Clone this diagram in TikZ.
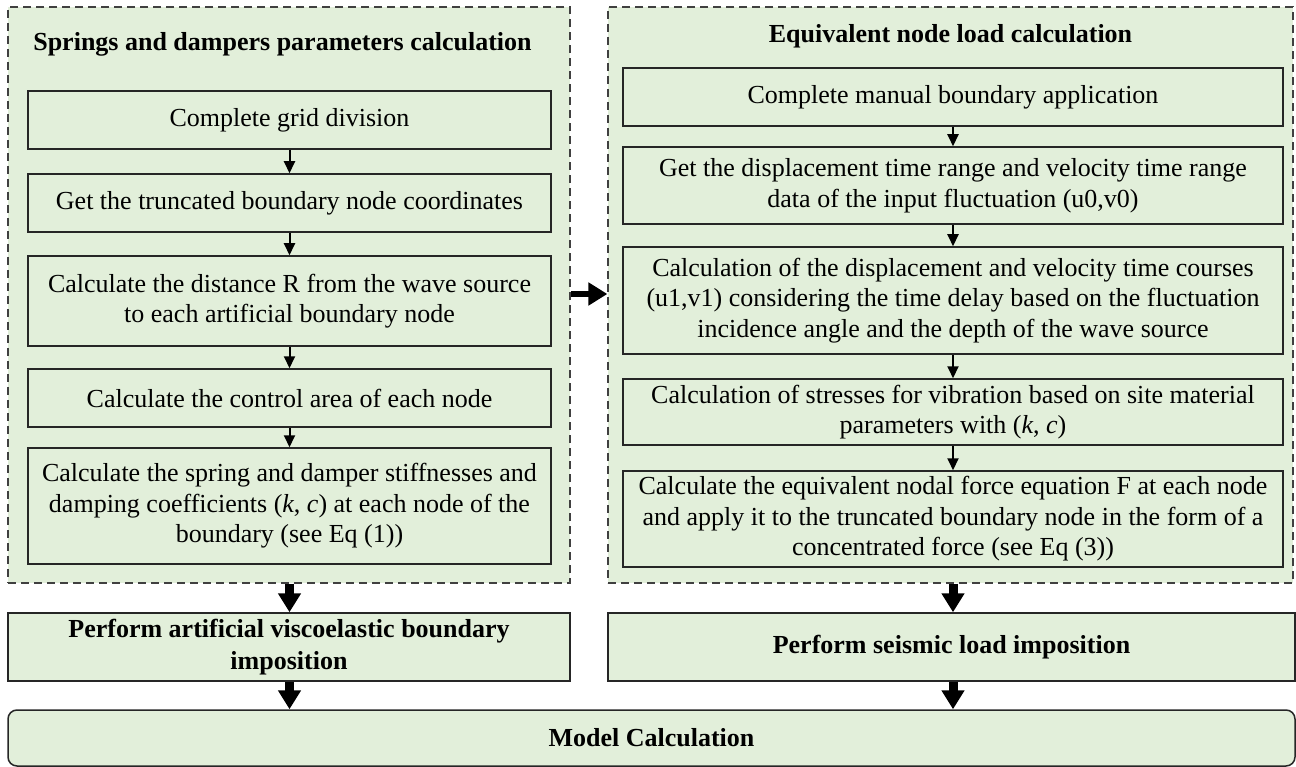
\documentclass[tikz,border=0pt]{standalone}
\usepackage{fontspec}
\setmainfont{Liberation Serif}
\usetikzlibrary{arrows.meta}
\definecolor{boxgreen}{RGB}{226,239,218}
\definecolor{boxline}{RGB}{38,38,38}
\definecolor{dashline}{RGB}{64,64,64}
\begin{document}
\begin{tikzpicture}[x=1pt,y=-1pt,
  frame/.style={draw=dashline, line width=1.2pt, dash pattern=on 8pt off 5pt, fill=boxgreen, inner sep=0pt},
  stepbox/.style={draw=boxline, line width=1.5pt, fill=boxgreen, align=center, inner sep=0pt,
    font=\fontsize{26}{30.5}\selectfont},
  resultbox/.style={stepbox, font=\fontsize{26}{31.5}\selectfont\bfseries},
  titletext/.style={inner sep=0pt, anchor=base, font=\fontsize{26}{30}\selectfont\bfseries},
  smallarrow/.style={-{Triangle[width=11pt,length=12pt]}, line width=2pt, draw=black},
  bigarrow/.style={-{Triangle[width=22pt,length=19pt]}, line width=9pt, draw=black}
]
\useasboundingbox (0,0) rectangle (1296,767);

% containers
\node[frame, minimum width=562pt, minimum height=576pt] (lc) at (289,295) {};
\node[frame, minimum width=685pt, minimum height=576pt] (rc) at (950.5,295) {};

% titles
\node[titletext] (lt) at (282.5,51) {Springs and dampers parameters calculation};
\node[titletext] (rt) at (950.5,43) {Equivalent node load calculation};

% left steps
\node[stepbox, minimum width=523pt, minimum height=58pt] (L1) at (289.5,120) {Complete grid division};
\node[stepbox, minimum width=523pt, minimum height=58pt] (L2) at (289.5,203) {Get the truncated boundary node coordinates};
\node[stepbox, minimum width=523pt, minimum height=90pt] (L3) at (289.5,301) {Calculate the distance R from the wave source\\to each artificial boundary node};
\node[stepbox, minimum width=523pt, minimum height=58pt] (L4) at (289.5,398) {Calculate the control area of each node};
\node[stepbox, minimum width=523pt, minimum height=116pt] (L5) at (289.5,506) {Calculate the spring and damper stiffnesses and\\damping coefficients (\textit{k}, \textit{c}) at each node of the\\boundary (see Eq (1))};

% right steps
\node[stepbox, minimum width=660pt, minimum height=58pt] (R1) at (953,97) {Complete manual boundary application};
\node[stepbox, minimum width=660pt, minimum height=77pt] (R2) at (953,185.5) {Get the displacement time range and velocity time range\\data of the input fluctuation (u0,v0)};
\node[stepbox, minimum width=660pt, minimum height=107pt] (R3) at (953,300.5) {Calculation of the displacement and velocity time courses\\(u1,v1) considering the time delay based on the fluctuation\\incidence angle and the depth of the wave source};
\node[stepbox, minimum width=660pt, minimum height=66pt] (R4) at (953,412) {Calculation of stresses for vibration based on site material\\parameters with (\textit{k}, \textit{c})};
\node[stepbox, minimum width=660pt, minimum height=96pt] (R5) at (953,519) {Calculate the equivalent nodal force equation F at each node\\and apply it to the truncated boundary node in the form of a\\concentrated force (see Eq (3))};

% result boxes
\node[resultbox, minimum width=562pt, minimum height=68pt] (BL) at (289,647) {Perform artificial viscoelastic boundary\\imposition};
\node[resultbox, minimum width=687pt, minimum height=68pt] (BR) at (951.5,647) {Perform seismic load imposition};
\node[resultbox, rounded corners=9pt, minimum width=1287pt, minimum height=56pt] (MC) at (651.5,738) {Model Calculation};

% small arrows
\draw[smallarrow] (L1) -- (L2);
\draw[smallarrow] (L2) -- (L3);
\draw[smallarrow] (L3) -- (L4);
\draw[smallarrow] (L4) -- (L5);
\draw[smallarrow] (R1) -- (R2);
\draw[smallarrow] (R2) -- (R3);
\draw[smallarrow] (R3) -- (R4);
\draw[smallarrow] (R4) -- (R5);

% big arrows
\draw[bigarrow] (L5 |- lc.south) -- (L5 |- BL.north);
\draw[bigarrow] (R5 |- rc.south) -- (R5 |- BR.north);
\draw[bigarrow] (L5 |- BL.south) -- (L5 |- MC.north);
\draw[bigarrow] (R5 |- BR.south) -- (R5 |- MC.north);
\coordinate (hy) at (0,294);
\draw[bigarrow, line width=6pt] (lc.east |- hy) -- (rc.west |- hy);
\end{tikzpicture}
\end{document}
